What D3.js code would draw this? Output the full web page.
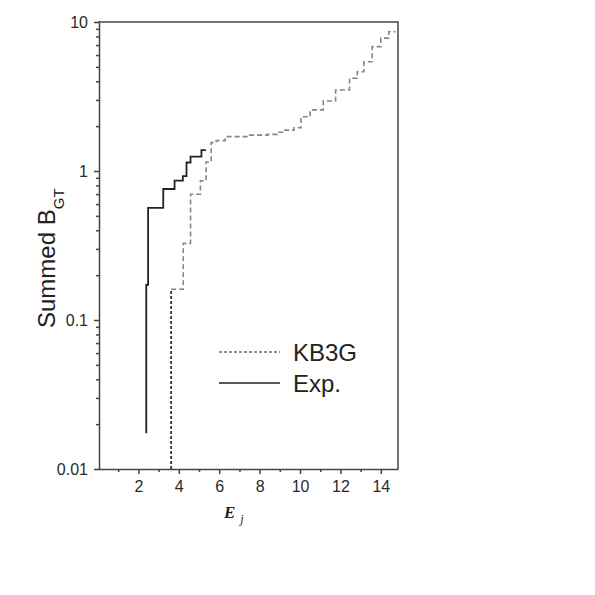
<!DOCTYPE html>
<html>
<head>
<meta charset="utf-8">
<script src="https://cdn.jsdelivr.net/npm/d3@7"></script>
<style>
  body { margin: 0; background: #fff; }
  svg { display: block; font-family: Arial, "Liberation Sans", sans-serif; }
  .axis path, .axis line { stroke: #444; stroke-width: 1.5; }
  .axis text { font-size: 16px; fill: #2a2a2a; font-family: Arial, "Liberation Sans", sans-serif; }
</style>
</head>
<body>
<div id="chart"></div>
<script>
// experimental summed B(GT), step positions and levels
var expE = [2.39, 2.39, 2.48, 3.23, 3.79, 4.20, 4.38, 4.58, 5.12, 5.34];
var expB = [0.0174, 0.172, 0.565, 0.757, 0.861, 0.925, 1.14, 1.25, 1.38, 1.38];

// KB3G calculation
var kbE = [3.62, 3.62, 4.22, 4.58, 5.07, 5.35, 5.60, 5.85, 6.30, 7.50, 8.40, 8.87, 9.20, 9.70,
           10.05, 10.50, 11.15, 11.76, 12.45, 12.83, 13.16, 13.57, 14.00, 14.40, 14.73];
var kbB = [0.01, 0.161, 0.327, 0.698, 0.86, 1.15, 1.55, 1.60, 1.70, 1.74, 1.76, 1.82, 1.88, 1.95,
           2.31, 2.57, 2.95, 3.5, 4.19, 4.64, 5.41, 6.83, 7.8, 8.61, 8.61];

var xTicks = [2, 4, 6, 8, 10, 12, 14];
var xMinor = [1, 3, 5, 7, 9, 11, 13];
var yTicks = [0.01, 0.1, 1, 10];
var yTickLabels = ["0.01", "0.1", "1", "10"];
var legendNames = ["KB3G", "Exp."];

var W = 595, H = 595,
    pLeft = 98, pRight = 398, pTop = 22, pBottom = 469;

var svg = d3.select("#chart").append("svg")
    .attr("width", W)
    .attr("height", H);

var x = d3.scaleLinear().domain([0, 14.85]).range([pLeft, pRight]);
var y = d3.scaleLog().domain([0.01, 10]).range([pBottom, pTop]);

// frame top + right
svg.append("path")
    .attr("d", "M" + pLeft + "," + pTop + "H" + pRight + "V" + pBottom)
    .attr("fill", "none")
    .attr("stroke", "#444")
    .attr("stroke-width", 1.5);

// x axis
svg.append("g")
    .attr("class", "axis")
    .attr("transform", "translate(0," + pBottom + ")")
    .call(d3.axisBottom(x).tickValues(xTicks).tickSize(5).tickPadding(7).tickSizeOuter(0).tickFormat(d3.format("d")));

svg.append("g")
    .attr("class", "axis")
    .attr("transform", "translate(0," + pBottom + ")")
    .call(d3.axisBottom(x).tickValues(xMinor).tickSize(3).tickSizeOuter(0).tickFormat(""))
    .select(".domain").remove();

// y axis
var yMinor = y.ticks().filter(function(d) { return yTicks.indexOf(d) < 0; });

svg.append("g")
    .attr("class", "axis")
    .attr("transform", "translate(" + (pLeft + 1) + ",0)")
    .call(d3.axisLeft(y).tickValues(yTicks).tickSize(5).tickPadding(6).tickSizeOuter(0)
        .tickFormat(function(d, i) { return yTickLabels[i]; }));

svg.append("g")
    .attr("class", "axis")
    .attr("transform", "translate(" + (pLeft + 1) + ",0)")
    .call(d3.axisLeft(y).tickValues(yMinor).tickSize(3).tickSizeOuter(0).tickFormat(""))
    .select(".domain").remove();

// lines
var line = d3.line()
    .x(function(d) { return x(d[0]); })
    .y(function(d) { return y(d[1]); })
    .curve(d3.curveStepAfter);

var kbPts = kbE.map(function(e, i) { return [e, kbB[i]]; });
var expPts = expE.map(function(e, i) { return [e, expB[i]]; });

svg.append("path")
    .datum(kbPts.slice(1))
    .attr("d", line)
    .attr("fill", "none")
    .attr("stroke", "#858585")
    .attr("stroke-width", 1.6)
    .attr("stroke-dasharray", "5,3");

svg.append("path")
    .datum(kbPts.slice(0, 2))
    .attr("d", line)
    .attr("fill", "none")
    .attr("stroke", "#333")
    .attr("stroke-width", 1.8)
    .attr("stroke-dasharray", "3,2");

svg.append("path")
    .datum(expPts)
    .attr("d", line)
    .attr("fill", "none")
    .attr("stroke", "#222")
    .attr("stroke-width", 1.8);

// legend
var legend = svg.append("g").attr("transform", "translate(219,352)");
legend.selectAll("line")
    .data(legendNames)
    .enter().append("line")
    .attr("x1", 0).attr("x2", 61)
    .attr("y1", function(d, i) { return i * 31; })
    .attr("y2", function(d, i) { return i * 31; })
    .attr("stroke", "#222")
    .attr("stroke-width", function(d, i) { return i ? 1.5 : 1.2; })
    .attr("stroke-dasharray", function(d, i) { return i ? null : "3,2"; });
legend.selectAll("text")
    .data(legendNames)
    .enter().append("text")
    .attr("x", 74)
    .attr("y", function(d, i) { return i * 31 + 8.5; })
    .attr("font-size", 24)
    .attr("fill", "#222")
    .text(function(d) { return d; });

// axis titles
var yl = svg.append("text")
    .attr("transform", "translate(55,328) rotate(-90)")
    .attr("font-size", 24)
    .attr("fill", "#222");
yl.append("tspan").text("Summed B");
yl.append("tspan").attr("font-size", 15).attr("dy", 9).text("GT");

var xl = svg.append("text")
    .attr("x", 224)
    .attr("y", 518)
    .attr("font-family", "'Liberation Serif', 'DejaVu Serif', serif")
    .attr("fill", "#222");
xl.append("tspan").attr("font-size", 17).attr("font-weight", "bold").attr("font-style", "italic").text("E");
xl.append("tspan").attr("font-size", 12).attr("font-style", "italic").attr("dx", 5).attr("dy", 5).text("j");
</script>
</body>
</html>
